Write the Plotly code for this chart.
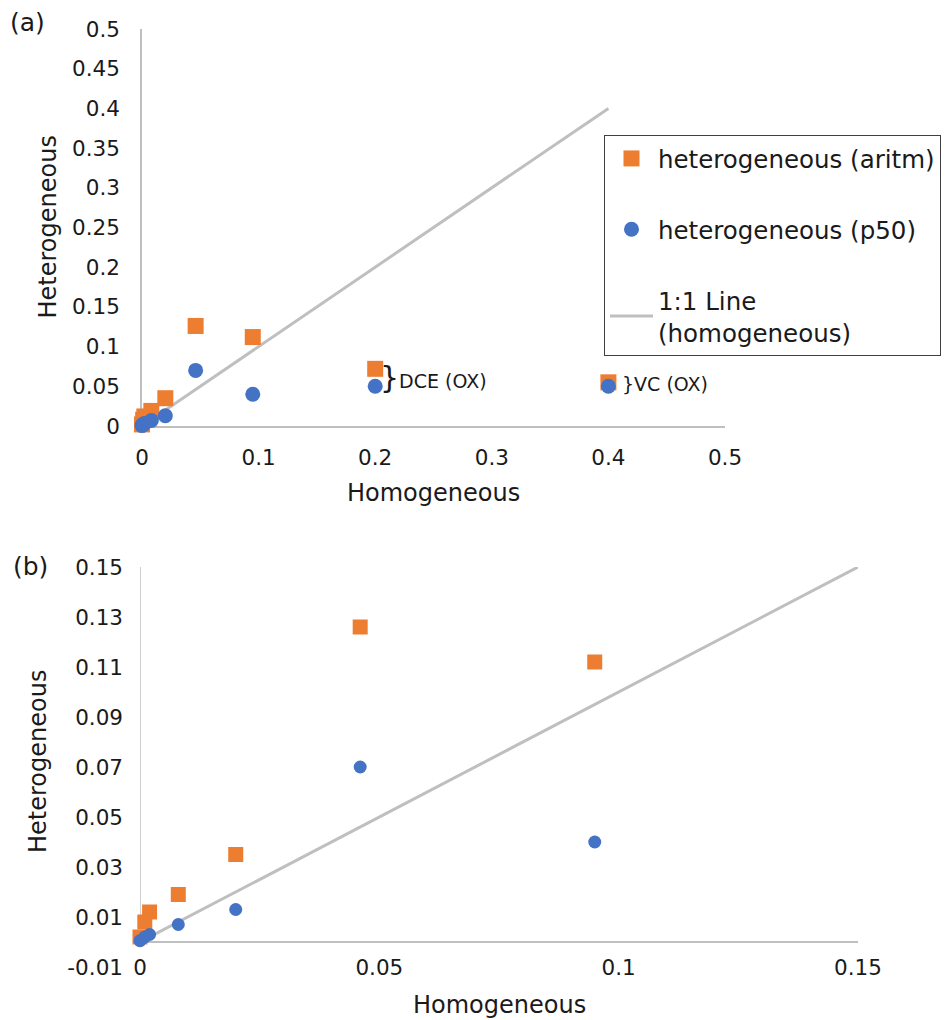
import plotly.graph_objects as go

# Concentrations: homogeneous model vs. heterogeneous model
homogeneous = [0.0, 0.001, 0.002, 0.008, 0.020, 0.046, 0.095, 0.200, 0.400]
het_aritm = [0.002, 0.008, 0.012, 0.019, 0.035, 0.126, 0.112, 0.072, 0.055]
het_p50 = [0.0005, 0.002, 0.003, 0.007, 0.013, 0.070, 0.040, 0.050, 0.050]

# 1:1 reference line end points for each panel
line_a = [0.0, 0.4]
line_b = [0.0, 0.15]

# Axis ticks
xtick_a = [0, 0.1, 0.2, 0.3, 0.4, 0.5]
xtext_a = ["0", "0.1", "0.2", "0.3", "0.4", "0.5"]
ytick_a = [0, 0.05, 0.1, 0.15, 0.2, 0.25, 0.3, 0.35, 0.4, 0.45, 0.5]
ytext_a = ["0", "0.05", "0.1", "0.15", "0.2", "0.25", "0.3", "0.35", "0.4", "0.45", "0.5"]
xtick_b = [0, 0.05, 0.1, 0.15]
xtext_b = ["0", "0.05", "0.1", "0.15"]
ytick_b = [-0.01, 0.01, 0.03, 0.05, 0.07, 0.09, 0.11, 0.13, 0.15]
ytext_b = ["-0.01", "0.01", "0.03", "0.05", "0.07", "0.09", "0.11", "0.13", "0.15"]

W, H = 946, 1020
FONT = "DejaVu Sans"
ORANGE = "#ED7D31"
BLUE = "#4472C4"
GREY = "#BFBFBF"
TXT = "#1a1a1a"


def fx(px):
    return px / W


def fy(px):
    return 1 - px / H


# panel (b) only shows the low-concentration points
xmax_b = 0.15
idx_b = [i for i, v in enumerate(homogeneous) if v <= xmax_b]
hom_b = [homogeneous[i] for i in idx_b]
aritm_b = [het_aritm[i] for i in idx_b]
p50_b = [het_p50[i] for i in idx_b]

fig = go.Figure()

# ---- panel (a)
fig.add_trace(go.Scatter(
    x=line_a, y=line_a, mode="lines", name="1:1 Line<br>(homogeneous)",
    line=dict(color=GREY, width=3), legendgroup="c", legendrank=3,
    xaxis="x", yaxis="y", cliponaxis=False))
fig.add_trace(go.Scatter(
    x=homogeneous, y=het_aritm, mode="markers", name="heterogeneous (aritm)",
    marker=dict(symbol="square", size=16, color=ORANGE), legendgroup="a",
    legendrank=1, xaxis="x", yaxis="y", cliponaxis=False))
fig.add_trace(go.Scatter(
    x=homogeneous, y=het_p50, mode="markers", name="heterogeneous (p50)",
    marker=dict(symbol="circle", size=15, color=BLUE), legendgroup="b",
    legendrank=2, xaxis="x", yaxis="y", cliponaxis=False))

# ---- panel (b)
fig.add_trace(go.Scatter(
    x=line_b, y=line_b, mode="lines", showlegend=False,
    line=dict(color=GREY, width=3), xaxis="x2", yaxis="y2", cliponaxis=False))
fig.add_trace(go.Scatter(
    x=hom_b, y=aritm_b, mode="markers", showlegend=False,
    marker=dict(symbol="square", size=15, color=ORANGE),
    xaxis="x2", yaxis="y2", cliponaxis=False))
fig.add_trace(go.Scatter(
    x=hom_b, y=p50_b, mode="markers", showlegend=False,
    marker=dict(symbol="circle", size=13, color=BLUE),
    xaxis="x2", yaxis="y2", cliponaxis=False))

axis_common = dict(
    showgrid=False, zeroline=False, linecolor=GREY,
    linewidth=1.5, ticks="", layer="below traces",
    tickfont=dict(family=FONT, size=21.5, color=TXT), fixedrange=True,
)

# plot-area pixel boxes
a_l, a_r, a_t, a_b = 142, 725, 29, 426
b_l, b_r, b_t, b_b = 140, 858, 567, 967
yrange_b = [-0.01, 0.15]
b_dom = [fy(b_b), fy(b_t)]
# paper position of the y = 0 line in panel (b)
zero_b = b_dom[0] + (b_dom[1] - b_dom[0]) * (0 - yrange_b[0]) / (yrange_b[1] - yrange_b[0])

fig.update_layout(
    width=W, height=H,
    margin=dict(l=0, r=0, t=0, b=0, autoexpand=False),
    paper_bgcolor="white", plot_bgcolor="white",
    font=dict(family=FONT, color=TXT),
    xaxis=dict(domain=[fx(a_l), fx(a_r)], range=[0, 0.5], anchor="y",
               showline=True, tickvals=xtick_a, ticktext=xtext_a,
               ticklabelstandoff=11, **axis_common),
    yaxis=dict(domain=[fy(a_b), fy(a_t)], range=[0, 0.5], anchor="x",
               showline=True, tickvals=ytick_a, ticktext=ytext_a,
               ticklabelstandoff=16, **axis_common),
    xaxis2=dict(domain=[fx(b_l), fx(b_r)], range=[0, xmax_b], anchor="free",
                position=zero_b, showline=True, tickvals=xtick_b,
                ticktext=xtext_b, ticklabelstandoff=6, **axis_common),
    yaxis2=dict(domain=b_dom, range=yrange_b, anchor="x2", showline=False,
                tickvals=ytick_b, ticktext=ytext_b, ticklabelstandoff=16,
                **axis_common),
    legend=dict(
        x=fx(604), y=fy(135), xanchor="left", yanchor="top",
        bordercolor="#404040", borderwidth=1, bgcolor="white",
        font=dict(family=FONT, size=24.5, color=TXT),
        traceorder="grouped", tracegroupgap=36, itemwidth=43,
    ),
    showlegend=True,
)

# vertical axis of panel (b) runs from the x axis (y = 0) up to the top
fig.add_shape(type="line", xref="x2", yref="y2", x0=0, x1=0, y0=0,
              y1=yrange_b[1], line=dict(color=GREY, width=1.5), layer="below")

ann = []


def label(text, x, y, size, **kw):
    ann.append(dict(text=text, x=fx(x), y=fy(y), xref="paper", yref="paper",
                    xanchor="center", yanchor="middle", showarrow=False,
                    font=dict(family=FONT, size=size, color=TXT), **kw))


label("(a)", 27, 22, 25)
label("(b)", 30, 566, 25)
label("Homogeneous", (a_l + a_r) / 2, 493, 24)
label("Homogeneous", (b_l + b_r) / 2, 1005, 24)
label("Heterogeneous", 48, (a_t + a_b) / 2, 24, textangle=-90)
label("Heterogeneous", 38, 762, 24, textangle=-90)

# bracket labels next to the oxidised-compound points in panel (a)
dce_y = (het_aritm[7] + het_p50[7]) / 2
vc_y = (het_aritm[8] + het_p50[8]) / 2
ann.append(dict(text="<span style='font-size:30px'>}</span>DCE (OX)",
                x=homogeneous[7], y=dce_y, xref="x", yref="y",
                xanchor="left", yanchor="middle", xshift=3, showarrow=False,
                font=dict(family=FONT, size=19, color=TXT)))
ann.append(dict(text="}VC (OX)", x=homogeneous[8], y=vc_y, xref="x", yref="y",
                xanchor="left", yanchor="middle", xshift=12, showarrow=False,
                font=dict(family=FONT, size=19, color=TXT)))

fig.update_layout(annotations=ann)

fig.write_html("out.html")
